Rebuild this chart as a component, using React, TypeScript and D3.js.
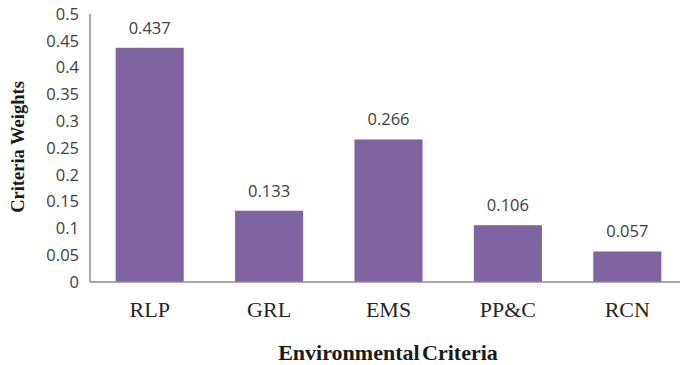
import React from "react";
import * as d3 from "d3";

const categories = ["RLP", "GRL", "EMS", "PP&C", "RCN"];
const weights = [0.437, 0.133, 0.266, 0.106, 0.057];
const yTicks = [0, 0.05, 0.1, 0.15, 0.2, 0.25, 0.3, 0.35, 0.4, 0.45, 0.5];

const W = 680;
const H = 365;
const left = 90;
const right = 687;
const top = 14;
const bottom = 282;

export default function App() {
  const x = d3.scaleBand<string>().domain(categories).range([left, right]).paddingInner(0.43).paddingOuter(0.215);
  const y = d3.scaleLinear().domain([0, 0.5]).range([bottom, top]);
  const fmt = (v: number) => (v === 0 ? "0" : String(+v.toFixed(2)));

  return (
    <svg width={W} height={H} style={{ position: "absolute", left: 0, top: 0, background: "#fff" }}>
      {weights.map((v, i) => (
        <rect
          key={categories[i]}
          x={x(categories[i])!}
          y={y(v)}
          width={x.bandwidth()}
          height={y(0) - y(v)}
          fill="#8064A2"
        />
      ))}
      <line x1={left} x2={W} y1={bottom} y2={bottom} stroke="#8c8c8c" strokeWidth={1.5} />
      <line x1={left} x2={left} y1={top} y2={bottom} stroke="#8c8c8c" strokeWidth={1.5} />
      {yTicks.map((t) => (
        <text
          key={t}
          x={left - 11}
          y={y(t)}
          dy="0.35em"
          textAnchor="end"
          fontFamily="'Open Sans', sans-serif"
          fontSize={16.5}
          fill="#404040"
        >
          {fmt(t)}
        </text>
      ))}
      {weights.map((v, i) => (
        <text
          key={"l" + categories[i]}
          x={x(categories[i])! + x.bandwidth() / 2}
          y={y(v) - 14}
          textAnchor="middle"
          fontFamily="'Open Sans', sans-serif"
          fontSize={16.5}
          fill="#404040"
        >
          {v.toFixed(3)}
        </text>
      ))}
      {categories.map((c) => (
        <text
          key={"c" + c}
          x={x(c)! + x.bandwidth() / 2}
          y={309}
          dy="0.35em"
          textAnchor="middle"
          fontFamily="'Liberation Serif', serif"
          fontSize={22}
          fill="#262626"
        >
          {c}
        </text>
      ))}
      <text
        x={388}
        y={352}
        dy="0.35em"
        textAnchor="middle"
        fontFamily="'Liberation Serif', serif"
        fontWeight="bold"
        fontSize={22}
        wordSpacing={-3}
        fill="#1a1a1a"
      >
        Environmental Criteria
      </text>
      <text
        transform={`translate(18,147) rotate(-90)`}
        dy="0.35em"
        textAnchor="middle"
        fontFamily="'Liberation Serif', serif"
        fontWeight="bold"
        fontSize={18.5}
        fill="#1a1a1a"
      >
        Criteria Weights
      </text>
    </svg>
  );
}
